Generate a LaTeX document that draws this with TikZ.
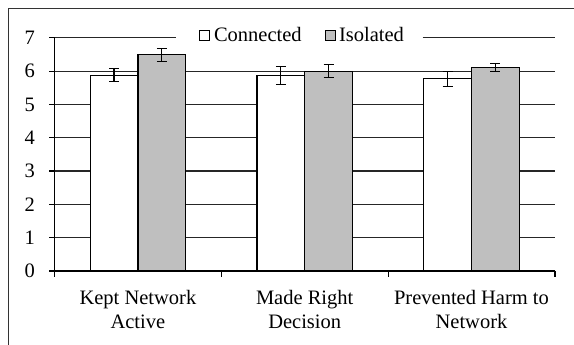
\documentclass[tikz,border=0pt]{standalone}
\usepackage{fontspec}
\setmainfont{Liberation Serif}
\usepackage{tikz}
\usetikzlibrary{positioning}
\colorlet{isolated}{black!25}

\begin{document}
\begin{tikzpicture}[
  x=1pt, y=1pt,
  every node/.style={font=\fontsize{20.5}{23.5}\selectfont, inner sep=0pt},
  grid line/.style={line width=1.2pt, black!85},
  axis line/.style={line width=1.8pt},
  bar/.style={draw, line width=1.2pt},
  connected bar/.style={bar, fill=white},
  isolated bar/.style={bar, fill=isolated},
  key box/.style={draw, line width=0.8pt, minimum size=10pt},
  error bar/.pic={
    \draw[line width=1.1pt] (0,-#1) -- (0,#1)
      (-5pt,-#1) -- (5pt,-#1) (-5pt,#1) -- (5pt,#1);
  }
]
\useasboundingbox (0,0) rectangle (574,345);
% outer frame
\draw[line width=1.4pt, black!80] (8.3,0) -- (8.3,336.7) -- (574,336.7);

% legend
\node[key box, fill=white, anchor=south west] (keyC) at (199,303.7) {};
\node[right=4pt of keyC.south east, anchor=base west] (txtC) {Connected};
\node[key box, fill=isolated, anchor=south west] (keyI) at (325,303.7) {};
\node[right=3pt of keyI.south east, anchor=base west] (txtI) {Isolated};

\begin{scope}[shift={(54.5,74)}, x=166.8pt, y=33.3pt]
% grid
\foreach \v in {1,...,6}
  \draw[grid line] (0,\v) -- (3,\v);
\draw[grid line] (0,7) -- (0.727,7);
\draw[grid line] (2.207,7) -- (3,7);

% bars
\draw[connected bar] (0.214,0) rectangle (0.5,5.88);
\draw[isolated bar]  (0.5,0)   rectangle (0.786,6.49);
\draw[connected bar] (1.214,0) rectangle (1.5,5.88);
\draw[isolated bar]  (1.5,0)   rectangle (1.786,6.00);
\draw[connected bar] (2.214,0) rectangle (2.5,5.77);
\draw[isolated bar]  (2.5,0)   rectangle (2.786,6.11);

% error bars
\pic at (0.357,5.88) {error bar=0.19};
\pic at (0.643,6.49) {error bar=0.19};
\pic at (1.357,5.88) {error bar=0.27};
\pic at (1.643,6.00) {error bar=0.20};
\pic at (2.357,5.77) {error bar=0.22};
\pic at (2.643,6.11) {error bar=0.12};

% axes
\draw[axis line] (0,7) -- (0,0) -- (3,0);
\foreach \v in {0,...,7} {
  \draw[line width=1.2pt] (0,\v) -- ++(-5.5pt,0);
  \node[anchor=east] (ylab\v) at ([xshift=-19.5pt]0,\v) {\v};
}
\foreach \i in {0,...,3}
  \draw[line width=1.2pt] (\i,0) -- ++(0,-6pt);

% category labels
\node[anchor=north, align=center] (cat1) at ([yshift=-19.5pt]0.5,0) {Kept Network\\Active};
\node[anchor=north, align=center] (cat2) at ([yshift=-19.5pt]1.5,0) {Made Right\\Decision};
\node[anchor=north, align=center] (cat3) at ([yshift=-19.5pt]2.5,0) {Prevented Harm to\\Network};
\end{scope}
\end{tikzpicture}
\end{document}
